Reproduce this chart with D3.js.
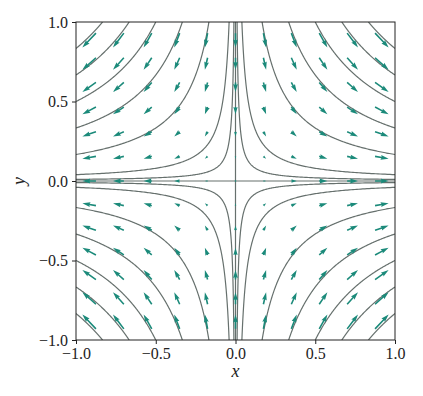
<!DOCTYPE html>
<html>
<head>
<meta charset="utf-8">
<script src="https://cdn.jsdelivr.net/npm/d3@7"></script>
<style>
  body { margin: 0; background: #fff; }
  svg { display: block; }
</style>
</head>
<body>
<svg id="chart"></svg>
<script>
const width = 423;
const height = 396;

// quiver grid
const gridX = [-0.875, -0.7, -0.525, -0.35, -0.175, 0, 0.175, 0.35, 0.525, 0.7, 0.875];
const gridY = [-0.93, -0.775, -0.62, -0.465, -0.31, -0.155, 0, 0.155, 0.31, 0.465, 0.62, 0.775, 0.93];

// contour levels of H = x*y
const levels = [-5 / 6, -4 / 6, -3 / 6, -2 / 6, -1 / 6, -0.04, -0.01, 0, 0.01, 0.04, 1 / 6, 2 / 6, 3 / 6, 4 / 6, 5 / 6];

const ticks = [-1, -0.5, 0, 0.5, 1];

// saddle: dx/dt = x, dy/dt = -y
const field = (x, y) => [x, -y];

const plot = { left: 76, right: 395, top: 22, bottom: 340 };
const arrowColor = "#1b8a7a";
const lineColor = "#66706d";
const pxPerUnit = 15.5;

const svg = d3.select("#chart").attr("width", width).attr("height", height);

const x = d3.scaleLinear().domain([-1, 1]).range([plot.left, plot.right]);
const y = d3.scaleLinear().domain([-1, 1]).range([plot.bottom, plot.top]);

svg.append("clipPath").attr("id", "clip")
  .append("rect")
  .attr("x", plot.left).attr("y", plot.top)
  .attr("width", plot.right - plot.left).attr("height", plot.bottom - plot.top);

const body = svg.append("g").attr("clip-path", "url(#clip)");

// contour lines
const line = d3.line().x((d) => x(d[0])).y((d) => y(d[1]));

function hyperbola(c, sign) {
  // branch of x*y = c with x of given sign
  const a = Math.abs(c);
  const pts = [];
  const n = 200;
  for (let i = 0; i <= n; i++) {
    const t = Math.log(a) + (i / n) * (-Math.log(a)) ; // log|x| from log a to 0
    const xv = sign * Math.exp(t);
    pts.push([xv, c / xv]);
  }
  return pts;
}

const contourG = body.append("g")
  .attr("fill", "none")
  .attr("stroke", lineColor)
  .attr("stroke-width", 1.2);

levels.forEach((c) => {
  if (c === 0) {
    contourG.append("path").attr("d", line([[-1, 0], [1, 0]]));
    contourG.append("path").attr("d", line([[0, -1], [0, 1]]));
    return;
  }
  [1, -1].forEach((s) => {
    contourG.append("path").attr("d", line(hyperbola(c, s)));
  });
});

// quiver arrows (matplotlib-like shape, pivot at tail)
const w = 0.005 * (plot.right - plot.left);
const headWidth = 3, headLength = 5, headAxisLength = 4.5;

function arrowPath(len) {
  // len in units of shaft width
  let pts;
  if (len < 1) {
    const r = 0.5;
    pts = d3.range(6).map((i) => [r * Math.cos(i * Math.PI / 3), r * Math.sin(i * Math.PI / 3)]);
  } else if (len < headLength) {
    const k = len / headLength;
    pts = [[0, 0.5 * k], [(headLength - headAxisLength) * k, 0.5 * k],
      [0, 0.5 * headWidth * k], [len, 0], [0, -0.5 * headWidth * k],
      [(headLength - headAxisLength) * k, -0.5 * k], [0, -0.5 * k]];
  } else {
    pts = [[0, 0.5], [len - headAxisLength, 0.5], [len - headLength, 0.5 * headWidth], [len, 0],
      [len - headLength, -0.5 * headWidth], [len - headAxisLength, -0.5], [0, -0.5]];
  }
  return "M" + pts.map((p) => `${p[0] * w},${p[1] * w}`).join("L") + "Z";
}

const arrows = [];
gridY.forEach((gy) => {
  gridX.forEach((gx) => {
    const [u, v] = field(gx, gy);
    arrows.push({ gx, gy, u, v });
  });
});

body.append("g").selectAll("path")
  .data(arrows)
  .join("path")
  .attr("fill", arrowColor)
  .attr("d", (d) => arrowPath(Math.hypot(d.u, d.v) * pxPerUnit / w))
  .attr("transform", (d) => {
    const ang = Math.atan2(-d.v, d.u) * 180 / Math.PI;
    return `translate(${x(d.gx)},${y(d.gy)}) rotate(${ang})`;
  });

// axes
const fmt = (d) => d3.format(".1f")(d).replace("-", "\u2212");

const xAxis = svg.append("g")
  .attr("transform", `translate(0,${plot.bottom})`)
  .call(d3.axisBottom(x).tickValues(ticks).tickFormat(fmt).tickSize(4).tickPadding(4));

const yAxis = svg.append("g")
  .attr("transform", `translate(${plot.left},0)`)
  .call(d3.axisLeft(y).tickValues(ticks).tickFormat(fmt).tickSize(4).tickPadding(4));

[xAxis, yAxis].forEach((g) => {
  g.select(".domain").remove();
  g.selectAll("line").attr("stroke", "#222").attr("stroke-width", 1);
  g.selectAll("text")
    .attr("font-family", "'Liberation Serif', 'DejaVu Serif', serif")
    .attr("font-size", 16)
    .attr("fill", "#222");
});

svg.append("rect")
  .attr("x", plot.left).attr("y", plot.top)
  .attr("width", plot.right - plot.left).attr("height", plot.bottom - plot.top)
  .attr("fill", "none").attr("stroke", "#222").attr("stroke-width", 1);

svg.append("text")
  .attr("x", (plot.left + plot.right) / 2)
  .attr("y", 377)
  .attr("text-anchor", "middle")
  .attr("font-family", "'Liberation Serif', serif")
  .attr("font-style", "italic")
  .attr("font-size", 18)
  .attr("fill", "#222")
  .text("x");

svg.append("text")
  .attr("transform", `translate(25,${(plot.top + plot.bottom) / 2}) rotate(-90)`)
  .attr("text-anchor", "middle")
  .attr("font-family", "'Liberation Serif', serif")
  .attr("font-style", "italic")
  .attr("font-size", 18)
  .attr("fill", "#222")
  .text("y");
</script>
</body>
</html>
